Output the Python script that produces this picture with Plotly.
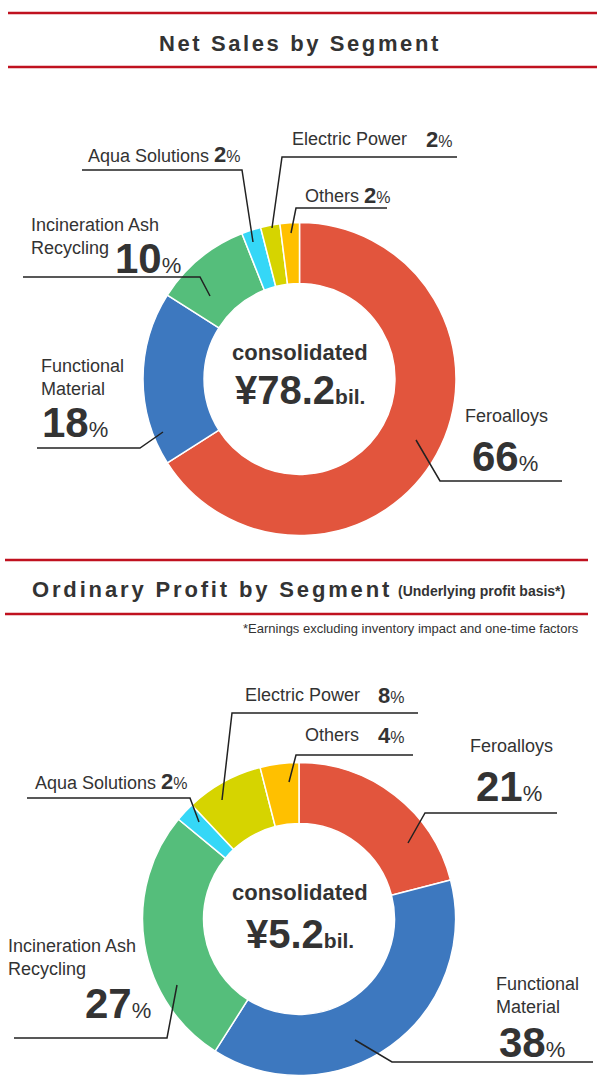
import plotly.graph_objects as go

# ---------------- data ----------------
segments = ["Feroalloys", "Functional Material", "Incineration Ash Recycling",
            "Aqua Solutions", "Electric Power", "Others"]
sales_share = [66, 18, 10, 2, 2, 2]
profit_share = [21, 38, 27, 2, 8, 4]
sales_total = "78.2"
profit_total = "5.2"
colors = ["#E2553D", "#3D78BF", "#55BE7B", "#35D7F7", "#D6D400", "#FFC000"]

W, H = 600, 1079
FONT = "Liberation Sans, Arial, sans-serif"
TXT = "#333333"
RED = "#C0111F"


def px(x):
    return x / W


def py(y):
    return 1 - y / H


fig = go.Figure()

for vals, (x0, x1, y0, y1) in [(sales_share, (143, 456, 222.5, 535.5)),
                               (profit_share, (142, 456, 762.5, 1075.5))]:
    fig.add_trace(go.Pie(
        labels=segments, values=vals, hole=0.61, sort=False,
        direction="clockwise", rotation=0,
        marker=dict(colors=colors, line=dict(color="white", width=1.5)),
        textinfo="none", hoverinfo="label+percent", showlegend=False,
        domain=dict(x=[px(x0), px(x1)], y=[py(y1), py(y0)]),
    ))

shapes = []


def hline(x0, x1, y):
    shapes.append(dict(type="line", xref="paper", yref="paper",
                       x0=px(x0), x1=px(x1), y0=py(y), y1=py(y),
                       line=dict(color=RED, width=2.5)))


def leader(pts):
    d = "M " + " L ".join(f"{px(x)},{py(y)}" for x, y in pts)
    shapes.append(dict(type="path", xref="paper", yref="paper", path=d,
                       line=dict(color="#222222", width=1.5)))


hline(8, 597, 13)
hline(8, 597, 67)
hline(5, 588, 560)
hline(5, 588, 614)

# chart 1 leaders
leader([(457, 157), (282, 157), (272, 228)])
leader([(82, 170), (242, 170), (253, 242)])
leader([(387, 208), (296, 208), (291, 233)])
leader([(23, 277), (200, 277), (210, 296)])
leader([(37, 448), (140, 448), (163, 432)])
leader([(562, 481), (440, 481), (416, 440)])
# chart 2 leaders
leader([(418, 713), (232, 713), (222, 800)])
leader([(413, 755), (296, 755), (289, 782)])
leader([(557, 813), (425, 813), (408, 843)])
leader([(27, 798), (190, 798), (199, 822)])
leader([(14, 1038), (167, 1038), (177, 985)])
leader([(593, 1062), (392, 1062), (355, 1040)])

ann = []


def text(x, y, s, size, anchor="left", color=TXT):
    ann.append(dict(xref="paper", yref="paper", x=px(x), y=py(y), text=s,
                    showarrow=False, xanchor=anchor, yanchor="middle",
                    align="left", font=dict(family=FONT, size=size, color=color)))


def pct_small(v):
    return f"<span style='font-size:22px'><b>{v}</b></span><span style='font-size:16px'>%</span>"


def small_pct(x, y, v):
    text(x, y, f"<b>{v}</b><span style='font-size:16px'>%</span>", 22)


def label_pct(x, y, name, v):
    text(x, y, f"{name} {pct_small(v)}", 18)


def big_pct(x, y, v):
    text(x, y, f"<b>{v}</b><span style='font-size:22px'>%</span>", 42)


def centre(y1, y2, total):
    text(300, y1, "<b>consolidated</b>", 22, anchor="center")
    text(300, y2, f"<b>¥{total}</b><span style='font-size:21px'><b>bil.</b></span>",
         40, anchor="center")


# headers
text(300, 43, "<b><span style='letter-spacing:2.6px'>Net Sales by Segment</span></b>",
     22, anchor="center")
text(30, 589, "<b><span style='letter-spacing:2.85px'>Ordinary Profit by Segment</span></b>",
     22)
text(396, 591, "<b>(Underlying profit basis*)</b>", 14)
text(581, 628, "*Earnings excluding inventory impact and one-time factors", 13,
     anchor="right")

# chart 1 labels
text(290, 139, segments[4], 18)
small_pct(424, 139, sales_share[4])
label_pct(86, 155, segments[3], sales_share[3])
text(303, 196, segments[5], 18)
small_pct(362, 196, sales_share[5])
text(29, 236.5, "Incineration Ash<br>Recycling", 18)
big_pct(113, 258, sales_share[2])
text(39, 377, "Functional<br>Material", 18)
big_pct(40, 423, sales_share[1])
text(463, 416, segments[0], 18)
big_pct(470, 456, sales_share[0])
centre(352, 390, sales_total)

# chart 2 labels
text(243, 695, segments[4], 18)
small_pct(376, 695, profit_share[4])
text(303, 735, segments[5], 18)
small_pct(376, 735, profit_share[5])
text(468, 746, segments[0], 18)
big_pct(474, 786, profit_share[0])
label_pct(33, 781, segments[3], profit_share[3])
text(6, 957.5, "Incineration Ash<br>Recycling", 18)
big_pct(83, 1003, profit_share[2])
text(494, 995, "Functional<br>Material", 18)
big_pct(497, 1042, profit_share[1])
centre(892, 934, profit_total)

fig.update_layout(
    width=W, height=H, margin=dict(l=0, r=0, t=0, b=0),
    paper_bgcolor="white", plot_bgcolor="white",
    shapes=shapes, annotations=ann, showlegend=False,
)

fig.write_html("out.html", config={"displayModeBar": False},
               post_script="document.body.style.margin='0';document.body.style.overflow='hidden';")
